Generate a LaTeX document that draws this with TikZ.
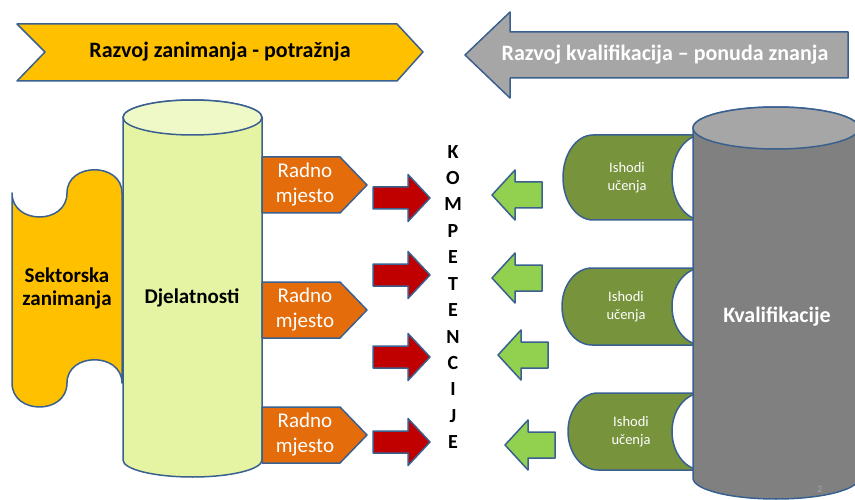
\documentclass[tikz,border=0pt]{standalone}
\usepackage{fontspec}
\setmainfont{Carlito}
\usepackage{tikz}
\definecolor{edge}{HTML}{3A6090}
\definecolor{amber}{HTML}{FFC000}
\definecolor{ash}{HTML}{A6A6A6}
\definecolor{ashdark}{HTML}{808080}
\definecolor{lime}{HTML}{E4F4A2}
\definecolor{limetop}{HTML}{EFF9C8}
\definecolor{rust}{HTML}{E46C0A}
\definecolor{deepred}{HTML}{C00000}
\definecolor{leaf}{HTML}{92D050}
\definecolor{moss}{HTML}{77933C}
\tikzset{
  outline/.style={draw=edge, line width=1.5pt, line join=round},
  title/.style={font=\bfseries\fontsize{22}{26}\selectfont, inner sep=0pt},
  big/.style={font=\bfseries\fontsize{21}{23}\selectfont, align=center, inner sep=0pt},
  post/.style={text=white, font=\fontsize{21}{25}\selectfont, align=center, inner sep=0pt},
  tiny/.style={text=white, font=\fontsize{14.5}{17.5}\selectfont, align=center, inner sep=0pt},
  letter/.style={font=\bfseries\fontsize{20}{20}\selectfont, text height=0.64em, text depth=0pt, inner sep=0pt},
}
\begin{document}
\begin{tikzpicture}[x=1pt,y=-1pt]
  \useasboundingbox (0,0) rectangle (855,500);
  % top banners
  \draw[outline, fill=amber] (17,24) -- (397,24) -- (423,52) -- (397,81) -- (17,81) -- (45,52) -- cycle;
  \node[title] (demand) at (220,52) {Razvoj zanimanja - potražnja};
  \draw[outline, fill=ash] (465,55) -- (510,12) -- (510,32) -- (848,32) -- (848,78) -- (510,78) -- (510,98) -- cycle;
  \node[title, text=white] (supply) at (665,55) {Razvoj kvalifikacija – ponuda znanja};
  % sector occupations behind the column
  \draw[outline, fill=amber] (12,193) .. controls (12,225) and (67,225) .. (67,193)
    .. controls (67,162) and (122,162) .. (122,193) -- (122,383)
    .. controls (122,352) and (67,352) .. (67,383)
    .. controls (67,415) and (12,415) .. (12,383) -- cycle;
  \node[big] (sector) at (67,288) {Sektorska\\zanimanja};
  % activities column
  \draw[outline, fill=lime] (123,117.5) -- (123,460) arc[start angle=180, end angle=360, x radius=69.5pt, y radius=17pt]
    -- (262,117.5) arc[start angle=0, end angle=180, x radius=69.5pt, y radius=17.5pt] -- cycle;
  \draw[outline, fill=limetop] (192.5,117.5) ellipse[x radius=69.5pt, y radius=17.5pt];
  \node[big] (activity) at (192,298) {Djelatnosti};
  % work places
  \foreach \y [count=\i] in {185,310,435} {
    \draw[outline, fill=rust] (262,\y-28) -- (340,\y-28) -- (367,\y) -- (340,\y+28) -- (262,\y+28) -- cycle;
    \node[post] (job\i) at (305,\y) {Radno\\mjesto};
  }
  % learning outcomes
  \foreach \t/\b/\l/\tx [count=\i] in {135/220/563/627, 268/345/562/626, 393/470/568/631} {
    \pgfmathsetmacro\r{(\b-\t)/2}
    \draw[outline, fill=moss] (\l+30,\t) arc[start angle=90, end angle=270, x radius=30pt, y radius=\r pt]
      -- (702,\b) -- (702,\t) -- cycle;
    \draw[outline, fill=white] (702,{(\t+\b)/2}) ellipse[x radius=30pt, y radius=\r pt];
    \node[tiny] (out\i) at (\tx,{(\t+\b)/2}) {Ishodi\\učenja};
  }
  % qualifications column
  \draw[outline, fill=ashdark] (693,128) -- (693,478) arc[start angle=180, end angle=360, x radius=83pt, y radius=21pt]
    -- (859,128) arc[start angle=0, end angle=180, x radius=83pt, y radius=21pt] -- cycle;
  \draw[outline, fill=ash] (776,128) ellipse[x radius=83pt, y radius=21pt];
  \node[big, text=white, font=\bfseries\fontsize{22}{26}\selectfont] (qual) at (777,317) {Kvalifikacije};
  \node[text=ash, font=\fontsize{10}{10}\selectfont, inner sep=0pt] (page) at (820,489) {2};
  % demand arrows
  \foreach \y in {198,275,357,442}
    \draw[outline, fill=deepred] (373,\y-11) -- (408,\y-11) -- (408,\y-23.5) -- (430,\y)
      -- (408,\y+23.5) -- (408,\y+11) -- (373,\y+11) -- cycle;
  % supply arrows
  \foreach \tx/\y in {492/195, 492/278, 498/355, 505/445}
    \draw[outline, fill=leaf] (\tx,\y) -- (\tx+23,\y-25) -- (\tx+23,\y-13) -- (\tx+50,\y-13)
      -- (\tx+50,\y+13) -- (\tx+23,\y+13) -- (\tx+23,\y+25) -- cycle;
  % competences
  \foreach \l [count=\i] in {K,O,M,P,E,T,E,N,C,I,J,E}
    \node[letter] (comp\i) at (453,{155+(\i-1)*26.4}) {\l};
\end{tikzpicture}
\end{document}
